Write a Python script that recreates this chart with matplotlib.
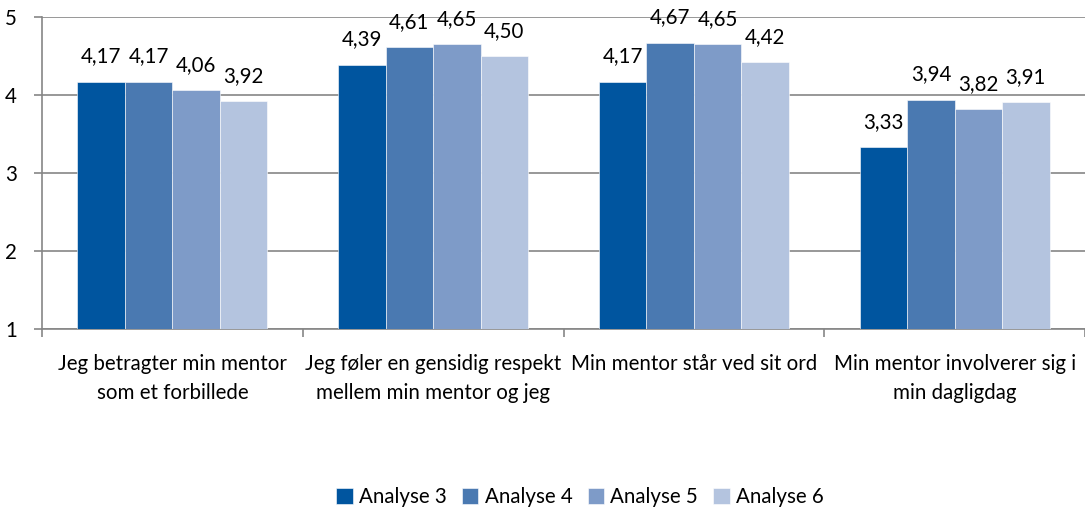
import matplotlib
matplotlib.use("Agg")
import matplotlib.pyplot as plt
import numpy as np

categories = ["Jeg betragter min mentor\nsom et forbillede",
              "Jeg føler en gensidig respekt\nmellem min mentor og jeg",
              "Min mentor står ved sit ord",
              "Min mentor involverer sig i\nmin dagligdag"]
series_names = ["Analyse 3", "Analyse 4", "Analyse 5", "Analyse 6"]
analyse3 = [4.17, 4.39, 4.17, 3.33]
analyse4 = [4.17, 4.61, 4.67, 3.94]
analyse5 = [4.06, 4.65, 4.65, 3.82]
analyse6 = [3.92, 4.50, 4.42, 3.91]
colors = ["#00559F", "#4A79B1", "#7E9BC8", "#B4C4DF"]

plt.rcParams['font.family'] = ['Lato', 'DejaVu Sans']
FS = 14.8

fig = plt.figure(figsize=(10.85, 5.14), dpi=100)
ax = fig.add_axes([42/1085, 1-329/514, 1-42/1085, (329-17)/514])

n = len(categories)
x = np.arange(n)
bw = 0.182
data = [analyse3, analyse4, analyse5, analyse6]
for i, (vals, name, c) in enumerate(zip(data, series_names, colors)):
    pos = x + (i - 1.5) * bw
    heights = [v - 1 for v in vals]
    ax.bar(pos, heights, bw, bottom=1, color=c, label=name, zorder=3,
           edgecolor="white", linewidth=0.4)
    for p, v in zip(pos, vals):
        ax.annotate(f"{v:.2f}".replace(".", ","), (p, v), xytext=(0, 11),
                    textcoords="offset points", ha="center", va="bottom",
                    fontsize=FS, color="#000000", annotation_clip=False)

ax.set_ylim(1, 5)
ax.set_xlim(-0.5, n - 0.5)
ax.set_yticks([1, 2, 3, 4, 5])
ax.set_yticklabels(["1", "2", "3", "4", "5"], fontsize=FS)
ax.yaxis.grid(True, color="#868686", linewidth=1.2, zorder=0)
ax.set_axisbelow(True)

ax.set_xticks(x)
ax.set_xticklabels(categories, fontsize=FS, linespacing=1.55)
ax.tick_params(axis="x", length=0, pad=18)
ax.set_xticks(np.arange(-0.5, n, 1.0), minor=True)
ax.tick_params(axis="x", which="minor", length=6, color="#868686", width=1.2)
ax.tick_params(axis="y", length=6, color="#868686", width=1.2, pad=12)

for s in ["top", "right"]:
    ax.spines[s].set_visible(False)
ax.spines["left"].set_color("#868686")
ax.spines["left"].set_linewidth(1.2)
ax.spines["bottom"].set_color("#868686")
ax.spines["bottom"].set_linewidth(1.2)

fig.legend(loc="center", bbox_to_anchor=(580/1085, 1 - 497/514), ncol=4, frameon=False,
           fontsize=FS, handlelength=0.8, handleheight=0.8, handletextpad=0.3,
           columnspacing=0.75)

fig.savefig("out.png", dpi=100)
